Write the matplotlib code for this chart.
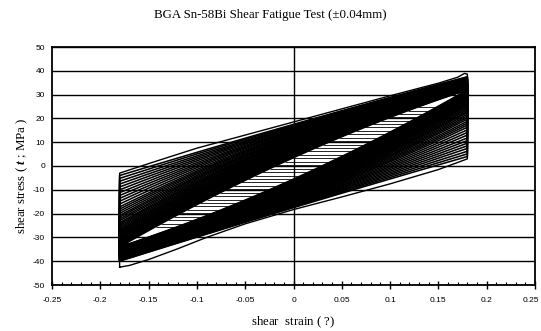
import numpy as np
import matplotlib
matplotlib.use('Agg')
import matplotlib.pyplot as plt
import matplotlib.transforms as mtransforms
from matplotlib.ticker import MultipleLocator

title = 'BGA Sn-58Bi Shear Fatigue Test (\u00b10.04mm)'
amp = 0.18  # strain amplitude of the test

# first cycle, outline
first_up_x = [-0.18, -0.15, -0.10, -0.05, 0.0, 0.05, 0.10, 0.15, 0.17, 0.177, 0.18]
first_up_y = [-3.0, 1.0, 7.5, 13.0, 18.5, 24.0, 29.5, 34.8, 37.3, 38.9, 38.6]
first_lo_x = [0.18, 0.15, 0.10, 0.05, 0.0, -0.05, -0.09, -0.12, -0.15, -0.17, -0.18]
first_lo_y = [3.0, -1.5, -7.5, -13.0, -18.3, -24.3, -30.0, -34.8, -39.3, -41.8, -42.5]

# later cycles: stress at the left end (min / after reload), centre, right end (max / after unload)
left_min = [-40.0, -39.8, -39.5, -39.3, -39.0, -38.8, -38.6, -38.3, -38.1, -37.8, -37.6,
            -37.4, -37.2, -37.0, -36.8, -36.6, -36.5, -36.3, -36.2, -36.0, -35.9, -35.8,
            -35.7, -35.6, -35.4, -35.4, -35.3, -35.2, -35.1, -35.0, -34.9, -34.8, -34.8,
            -34.7, -34.6, -34.5, -34.5, -34.4, -34.3, -34.3, -34.2, -34.1, -34.1, -34.0]
left_top = [-4.0, -5.2, -6.4, -7.6, -8.8, -10.0, -11.2, -12.4, -13.6, -14.8, -16.0,
            -17.2, -18.1, -19.0, -19.9, -20.8, -21.5, -22.3, -23.0, -23.8, -24.4, -25.0,
            -25.6, -26.2, -26.8, -27.2, -27.7, -28.1, -28.6, -29.0, -29.5, -29.9, -30.2,
            -30.6, -30.9, -31.3, -31.7, -32.0, -32.4, -32.7, -33.1, -33.4, -33.7, -34.0]
mid_up = [17.5, 17.2, 16.8, 16.5, 16.2, 15.9, 15.5, 15.2, 14.9, 14.6, 14.2,
          13.9, 13.6, 13.3, 12.9, 12.6, 12.3, 12.0, 11.6, 11.3, 11.0, 10.7,
          10.3, 10.0, 9.7, 9.4, 9.0, 8.7, 8.4, 8.1, 7.7, 7.4, 7.1,
          6.8, 6.4, 6.1, 5.8, 5.5, 5.1, 4.8, 4.5, 4.2, 3.8, 3.5]
right_max = [37.5, 37.3, 37.1, 36.8, 36.6, 36.4, 36.2, 36.0, 35.7, 35.5, 35.3,
             35.1, 34.9, 34.8, 34.6, 34.4, 34.3, 34.1, 34.0, 33.9, 33.8, 33.7,
             33.5, 33.4, 33.3, 33.2, 33.2, 33.1, 33.0, 32.9, 32.8, 32.8, 32.7,
             32.6, 32.6, 32.5, 32.4, 32.4, 32.3, 32.2, 32.2, 32.1, 32.1, 32.0]
right_bot = [4.0, 5.1, 6.2, 7.4, 8.5, 9.6, 10.7, 11.8, 13.0, 14.1, 15.2,
             16.3, 17.2, 18.0, 18.8, 19.7, 20.4, 21.1, 21.8, 22.5, 23.0, 23.6,
             24.2, 24.7, 25.3, 25.7, 26.1, 26.5, 27.0, 27.4, 27.8, 28.1, 28.5,
             28.8, 29.1, 29.5, 29.8, 30.2, 30.5, 30.8, 31.2, 31.4, 31.7, 32.0]
mid_lo = [-17.5, -17.2, -16.9, -16.7, -16.4, -16.1, -15.8, -15.5, -15.3, -15.0, -14.7,
          -14.4, -14.2, -13.9, -13.6, -13.3, -13.0, -12.8, -12.5, -12.2, -11.9, -11.7,
          -11.4, -11.1, -10.8, -10.5, -10.3, -10.0, -9.7, -9.4, -9.2, -8.9, -8.6,
          -8.3, -8.0, -7.8, -7.5, -7.2, -6.9, -6.7, -6.4, -6.1, -5.8, -5.5]

# horizontal hatch lines seen inside the white lens
rung_levels = [-25.5, -24.2, -22.6, -21.3, -19.8, -18.4, -16.9, -15.5, -14.1, -12.6, -11.2, -9.8,
               -8.3, -6.9, -5.4, -4.0, -2.6, -1.1, 0.3, 1.8, 3.2, 4.6, 6.1, 7.5, 9.0, 10.4,
               11.8, 13.3, 14.7, 16.2, 17.6, 19.0, 20.5, 21.9, 23.3, 24.8]

x_ticks = [-0.25, -0.2, -0.15, -0.1, -0.05, 0, 0.05, 0.1, 0.15, 0.2, 0.25]
x_tick_labels = ['-0.25', '-0.2', '-0.15', '-0.1', '-0.05', '0', '0.05', '0.1', '0.15', '0.2', '0.25']
y_ticks = [-50, -40, -30, -20, -10, 0, 10, 20, 30, 40, 50]

plt.rcParams['font.family'] = ['Liberation Serif', 'DejaVu Serif']
plt.rcParams['mathtext.fontset'] = 'custom'
plt.rcParams['mathtext.rm'] = 'Liberation Serif'
plt.rcParams['mathtext.it'] = 'Liberation Serif:italic:bold'

fig = plt.figure(figsize=(5.41, 3.31), dpi=100)
ax = fig.add_axes([52 / 541, 1 - 285 / 331, (535 - 52) / 541, (285 - 47) / 331])

xs = np.linspace(-amp, amp, 80)


def branch(y_left, y_mid, y_right):
    coef = np.polyfit([-amp, 0, amp], [y_left, y_mid, y_right], 2)
    return np.polyval(coef, xs)


# first cycle
px = [-amp] + first_up_x + first_lo_x
py = [first_lo_y[-1]] + first_up_y + first_lo_y
ax.plot(px, py, color='black', lw=1.0, zorder=3)

for lb, lt, um, rt, rb, lm in zip(left_min, left_top, mid_up, right_max, right_bot, mid_lo):
    up = branch(lt, um, rt)
    lo = branch(lb, lm, rb)
    px = np.concatenate([[-amp], xs, xs[::-1]])
    py = np.concatenate([[lb], up, lo[::-1]])
    ax.plot(px, py, color='black', lw=1.15, zorder=3)

# ladder inside the innermost loop
up_in = branch(left_top[-1], mid_up[-1], right_max[-1])
lo_in = branch(left_min[-1], mid_lo[-1], right_bot[-1])
x_left = np.interp(rung_levels, up_in, xs)
x_right = np.interp(rung_levels, lo_in, xs)
ax.hlines(rung_levels, x_left, x_right, color='black', lw=0.6, zorder=3)

ax.set_xlim(-0.25, 0.25)
ax.set_ylim(-50, 50)
ax.set_xticks(x_ticks)
ax.set_xticklabels(x_tick_labels)
ax.set_yticks(y_ticks)
ax.set_yticklabels([str(v) for v in y_ticks])
ax.xaxis.set_minor_locator(MultipleLocator(0.01))
ax.yaxis.grid(True, color='black', lw=1.0, zorder=1)
ax.set_axisbelow(True)
ax.axvline(0, color='black', lw=1.0, zorder=1)

ax.tick_params(axis='x', which='major', direction='inout', length=6, width=1.0,
               labelsize=6.0, pad=6)
ax.tick_params(axis='x', which='minor', direction='in', length=2.5, width=0.8)
ax.tick_params(axis='y', length=0, labelsize=6.0, pad=5)
for lbl in ax.get_xticklabels() + ax.get_yticklabels():
    lbl.set_fontfamily('Liberation Sans')
# keep the last x label inside the figure edge
last = ax.get_xticklabels()[-1]
last.set_transform(last.get_transform() + mtransforms.ScaledTranslation(-4 / 100, 0, fig.dpi_scale_trans))
for sp in ax.spines.values():
    sp.set_linewidth(1.3)

fig.text(0.5, 1 - 15 / 331, title, ha='center', va='center', fontsize=9.3)
fig.text(22 / 541, 1 - 176 / 331, r'shear stress ( $t$ ; MPa )', rotation=90,
         ha='center', va='center', fontsize=9.3)
fig.text(293.5 / 541, 1 - 322 / 331, r'shear  strain ( $?$)', ha='center', va='center',
         fontsize=9.3)

fig.savefig('out.png', dpi=100)
